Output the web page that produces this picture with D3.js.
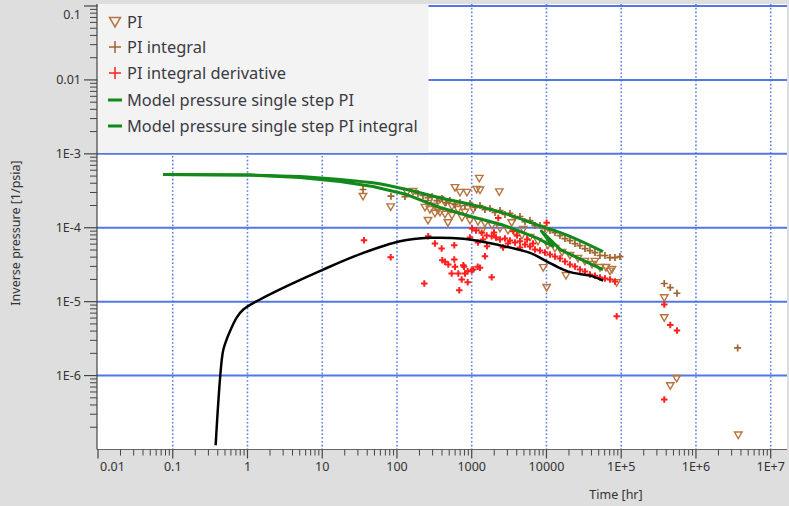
<!DOCTYPE html>
<html><head><meta charset="utf-8">
<script src="https://cdn.jsdelivr.net/npm/d3@7"></script>
<style>
body{margin:0;background:#dedede;}
svg{display:block;font-family:"Noto Sans","Open Sans",sans-serif;}
</style>
</head><body>
<svg id="c" width="789" height="506"></svg>
<script>
// ---------- tick labels ----------
const xTicks = [0.01, 0.1, 1, 10, 100, 1000, 10000, 1e5, 1e6, 1e7];
const xTickLabels = ["0.01", "0.1", "1", "10", "100", "1000", "10000", "1E+5", "1E+6", "1E+7"];
const yTicks = [1e-6, 1e-5, 1e-4, 1e-3, 0.01, 0.1];
const yTickLabels = ["1E-6", "1E-5", "1E-4", "1E-3", "0.01", "0.1"];
const seriesNames = ["PI", "PI integral", "PI integral derivative",
  "Model pressure single step PI", "Model pressure single step PI integral"];

// ---------- PI (triangles) ----------
const piTime = [35.1, 82.4, 136, 164, 260, 322, 322, 481, 597, 696,
  864, 1165, 1262, 1290, 2337, 1049, 3424, 4894, 1359, 9063,
  10060, 18240, 44550, 70710, 86960, 376700, 376700, 552100, 453200, 3680000,
  260, 276, 376, 439, 544, 741, 948, 1212, 1504, 1866, 2388,
  3055, 3790, 4702, 6016, 7695, 10470, 12990, 16120, 20620, 26390,
  32740, 40610, 51970, 62520, 75190,
  376, 439, 544, 655, 812, 354, 237];
const piValue = [2.64e-4, 1.91e-4, 3.0e-4, 3.09e-4, 1.25e-4, 1.56e-4, 1.95e-4, 1.165e-4, 3.47e-4, 3.0e-4,
  3.0e-4, 3.29e-4, 4.63e-4, 3.22e-4, 3.04e-4, 1.76e-4, 1.165e-4, 9.45e-5, 8.97e-5, 2.87e-5,
  1.55e-5, 2.25e-5, 3.49e-5, 2.58e-5, 1.80e-5, 1.125e-5, 6.04e-6, 9.11e-7, 7.26e-7, 1.56e-7,
  2.13e-4, 1.76e-4, 1.61e-4, 1.51e-4, 1.46e-4, 1.37e-4, 1.25e-4, 1.21e-4, 1.14e-4, 1.07e-4, 9.75e-5,
  9.17e-5, 8.61e-5, 7.84e-5, 7.37e-5, 6.51e-5, 5.74e-5, 5.23e-5, 4.62e-5, 4.21e-5, 3.83e-5,
  3.49e-5, 3.18e-5, 2.89e-5, 2.89e-5, 2.72e-5,
  2.41e-4, 2.19e-4, 1.94e-4, 1.76e-4, 1.61e-4, 1.71e-4, 1.88e-4];

// ---------- PI integral (brown plus) ----------
const piIntTime = [35.1, 83.1, 128, 191, 223, 260, 294, 343, 400, 452,
  512, 597, 696, 812, 948, 1105, 1290, 1504, 1755, 2046,
  2388, 2784, 3249, 3790, 4421, 5157, 6016, 7018, 8188, 9548,
  11140, 12990, 15160, 17680, 20620, 24060, 28070, 32740, 38180, 44550,
  51970, 60630, 70710, 82480, 96230, 376700, 453200, 557200, 3613000];
const piIntValue = [3.29e-4, 2.67e-4, 2.64e-4, 2.90e-4, 2.73e-4, 2.56e-4, 2.64e-4, 2.33e-4, 2.48e-4, 2.19e-4,
  2.33e-4, 2.06e-4, 2.19e-4, 2.00e-4, 2.13e-4, 1.88e-4, 2.00e-4, 1.76e-4, 1.82e-4, 1.61e-4,
  1.71e-4, 1.51e-4, 1.56e-4, 1.37e-4, 1.42e-4, 1.21e-4, 1.25e-4, 1.07e-4, 1.07e-4, 9.75e-5,
  9.17e-5, 8.61e-5, 7.84e-5, 7.14e-5, 6.71e-5, 6.11e-5, 5.74e-5, 5.23e-5, 4.91e-5, 4.62e-5,
  4.21e-5, 4.21e-5, 3.95e-5, 3.95e-5, 4.08e-5, 1.76e-5, 1.55e-5, 1.30e-5, 2.37e-6];

// ---------- PI integral derivative (red plus) ----------
const piDerTime = [36.2, 82.4, 232, 262, 322, 396, 584, 404, 439, 486,
  584, 597, 771, 788, 539, 661, 812, 883, 998, 1049,
  734, 883, 681, 1202, 1290, 1504, 1849, 2266, 10060, 86960,
  376700, 453200, 557200, 376700,
  948, 1008, 1140, 1212, 1359, 1585, 1600, 1849, 2110, 2388,
  2620, 2784, 3055, 3249, 3597, 3790, 4421, 4421, 5157, 6016,
  7018, 8188, 9548, 11140, 12990, 15160, 17680, 20620, 24060, 28070,
  32740, 38180, 44550, 51970, 60630, 70710, 82480,
  1414, 1985, 4030, 5486, 6596];
const piDerValue = [6.77e-5, 3.99e-5, 1.76e-5, 7.67e-5, 6.11e-5, 5.23e-5, 5.80e-5, 3.63e-5, 3.46e-5, 3.18e-5,
  3.71e-5, 2.96e-5, 3.11e-5, 2.96e-5, 2.40e-5, 2.40e-5, 2.40e-5, 2.58e-5, 2.64e-5, 2.72e-5,
  1.99e-5, 1.83e-5, 1.43e-5, 2.96e-5, 2.87e-5, 4.11e-5, 2.14e-5, 1.36e-4, 1.165e-4, 6.34e-6,
  9.14e-6, 4.85e-6, 4.06e-6, 4.73e-7,
  7.37e-5, 9.75e-5, 9.17e-5, 6.30e-5, 8.53e-5, 7.84e-5, 5.62e-5, 7.67e-5, 7.37e-5, 6.92e-5,
  5.40e-5, 7.14e-5, 6.11e-5, 6.71e-5, 8.97e-5, 6.30e-5, 6.57e-5, 5.40e-5, 5.92e-5, 5.57e-5,
  5.07e-5, 4.91e-5, 4.62e-5, 4.34e-5, 4.08e-5, 3.83e-5, 3.49e-5, 3.18e-5, 2.99e-5, 2.72e-5,
  2.55e-5, 2.33e-5, 2.25e-5, 2.12e-5, 2.05e-5, 1.99e-5, 1.87e-5,
  6.92e-5, 8.61e-5, 7.84e-5, 6.92e-5, 6.11e-5];

// ---------- model lines (in drawing order) ----------
const modelPITime = [0.0741, 1.08, 5.04, 17.3, 47.7, 135, 376, 977, 2620, 7390, 20620, 57000];
const modelPIValue = [5.25e-4, 5.16e-4, 4.93e-4, 4.49e-4, 4.05e-4, 3.29e-4, 2.54e-4, 2.06e-4, 1.59e-4, 1.105e-4, 7.67e-5, 4.76e-5];
const modelIntTime = [0.0741, 1.08, 5.04, 17.3, 47.7, 135, 376, 977, 2620, 7390, 12220, 8570, 15630, 57000];
const modelIntValue = [5.25e-4, 5.16e-4, 4.78e-4, 4.22e-4, 3.61e-4, 2.81e-4, 1.88e-4, 1.42e-4, 1.088e-4, 7.30e-5, 5.62e-5, 9.02e-5, 4.99e-5, 2.72e-5];
const modelDerTime = [0.375, 0.466, 0.508, 0.583, 0.717, 0.879, 1.47, 3.70, 10.3, 35.4, 110, 276, 771, 2160, 6020, 10060, 16800, 22800, 38200, 57500];
const modelDerValue = [1.14e-7, 2.03e-6, 2.80e-6, 3.98e-6, 6.09e-6, 7.82e-6, 1.07e-5, 1.70e-5, 2.72e-5, 4.57e-5, 6.57e-5, 7.30e-5, 7.08e-5, 5.92e-5, 4.57e-5, 3.52e-5, 2.72e-5, 2.45e-5, 2.25e-5, 1.93e-5];

// ---------- layout ----------
const svg = d3.select("#c");
const P = {left: 97, right: 787, top: 4, bottom: 449.5};
const x = d3.scaleLog().domain([0.01, 1e7]).range([98, 770.7]);
const y = d3.scaleLog().domain([1e-7, 0.1]).range([449.5, 6]);

const GRID = "#4169e1";
const C_TRI = "#b8743e", C_PLUS = "#a0642e", C_RED = "#ff1f1f", C_GREEN = "#12891a";

svg.append("rect").attr("x", P.left).attr("y", P.top)
  .attr("width", P.right - P.left).attr("height", P.bottom - P.top).attr("fill", "#fff");

svg.append("defs").append("clipPath").attr("id", "clip")
  .append("rect").attr("x", P.left).attr("y", P.top)
  .attr("width", P.right - P.left).attr("height", P.bottom - P.top);

const plot = svg.append("g").attr("clip-path", "url(#clip)");

// grid
plot.selectAll(".hg").data(yTicks).enter().append("line")
  .attr("x1", P.left).attr("x2", P.right)
  .attr("y1", d => y(d)).attr("y2", d => y(d))
  .attr("stroke", GRID).attr("stroke-width", 2).attr("opacity", 0.9);
plot.selectAll(".vg").data(xTicks.slice(1)).enter().append("line")
  .attr("x1", d => x(d)).attr("x2", d => x(d))
  .attr("y1", P.top).attr("y2", P.bottom)
  .attr("stroke", GRID).attr("stroke-width", 1.6).attr("stroke-dasharray", "1.6,2.2").attr("opacity", 0.85);

// markers
const tri = s => `M${-s/2},${-s*0.42}L${s/2},${-s*0.42}L0,${s*0.45}Z`;
const plus = s => `M${-s/2},0H${s/2}M0,${-s/2}V${s/2}`;

const piData = piTime.map((t, i) => [t, piValue[i]]);
const piIntData = piIntTime.map((t, i) => [t, piIntValue[i]]);
const piDerData = piDerTime.map((t, i) => [t, piDerValue[i]]);

plot.selectAll(".pi").data(piData).enter().append("path")
  .attr("d", tri(7.5)).attr("transform", d => `translate(${x(d[0])},${y(d[1])})`)
  .attr("fill", "none").attr("stroke", C_TRI).attr("stroke-width", 1.4);
plot.selectAll(".pint").data(piIntData).enter().append("path")
  .attr("d", plus(7)).attr("transform", d => `translate(${x(d[0])},${y(d[1])})`)
  .attr("fill", "none").attr("stroke", C_PLUS).attr("stroke-width", 1.7);
plot.selectAll(".pder").data(piDerData).enter().append("path")
  .attr("d", plus(6.5)).attr("transform", d => `translate(${x(d[0])},${y(d[1])})`)
  .attr("fill", "none").attr("stroke", C_RED).attr("stroke-width", 2);

// lines
const line = d3.line().x(d => x(d[0])).y(d => y(d[1]));
const smooth = d3.line().x(d => x(d[0])).y(d => y(d[1])).curve(d3.curveCatmullRom.alpha(0.5));
plot.append("path").datum(modelDerTime.map((t, i) => [t, modelDerValue[i]]))
  .attr("d", smooth).attr("fill", "none").attr("stroke", "#000").attr("stroke-width", 2.5)
  .attr("stroke-linejoin", "round");
plot.append("path").datum(modelPITime.map((t, i) => [t, modelPIValue[i]]))
  .attr("d", smooth).attr("fill", "none").attr("stroke", C_GREEN).attr("stroke-width", 3);
plot.append("path").datum(modelIntTime.map((t, i) => [t, modelIntValue[i]]))
  .attr("d", line).attr("fill", "none").attr("stroke", C_GREEN).attr("stroke-width", 3)
  .attr("stroke-linejoin", "round");

// legend
const lg = svg.append("g");
lg.append("rect").attr("x", P.left + 0.5).attr("y", P.top).attr("width", 331).attr("height", 149).attr("fill", "#f3f3f3");
const legY = [22, 47, 73, 100, 126];
const lx = 115, tx = 127;
lg.append("path").attr("d", tri(11)).attr("transform", `translate(${lx},${legY[0]})`)
  .attr("fill", "none").attr("stroke", C_TRI).attr("stroke-width", 1.5);
lg.append("path").attr("d", plus(12)).attr("transform", `translate(${lx},${legY[1]})`)
  .attr("fill", "none").attr("stroke", C_PLUS).attr("stroke-width", 1.5);
lg.append("path").attr("d", plus(12)).attr("transform", `translate(${lx},${legY[2]})`)
  .attr("fill", "none").attr("stroke", C_RED).attr("stroke-width", 1.5);
[3, 4].forEach(i => lg.append("line").attr("x1", lx - 7).attr("x2", lx + 7)
  .attr("y1", legY[i]).attr("y2", legY[i]).attr("stroke", C_GREEN).attr("stroke-width", 3));
lg.selectAll(".lt").data(seriesNames).enter().append("text")
  .attr("x", tx).attr("y", (d, i) => legY[i]).attr("dy", "0.35em")
  .attr("font-size", 16.4).attr("fill", "#3a3a44").text(d => d);

// axes lines
svg.append("line").attr("x1", P.left).attr("x2", P.left).attr("y1", P.top).attr("y2", P.bottom)
  .attr("stroke", "#444").attr("stroke-width", 1.2);
svg.append("line").attr("x1", P.left).attr("x2", P.right).attr("y1", P.bottom).attr("y2", P.bottom)
  .attr("stroke", "#666").attr("stroke-width", 1.2);

// minor ticks
const minorX = [], minorY = [];
for (let e = -2; e < 7; e++) for (let k = 2; k <= 9; k++) minorX.push(k * Math.pow(10, e));
for (let e = -7; e < -1; e++) for (let k = 2; k <= 9; k++) minorY.push(k * Math.pow(10, e));
svg.selectAll(".mx").data(minorX).enter().append("line")
  .attr("x1", d => x(d)).attr("x2", d => x(d)).attr("y1", P.bottom).attr("y2", P.bottom + 6)
  .attr("stroke", "#444").attr("stroke-width", 1);
svg.selectAll(".Mx").data(xTicks).enter().append("line")
  .attr("x1", d => x(d)).attr("x2", d => x(d)).attr("y1", P.bottom).attr("y2", P.bottom + 9)
  .attr("stroke", "#444").attr("stroke-width", 1.2);
svg.selectAll(".my").data(minorY).enter().append("line")
  .attr("y1", d => y(d)).attr("y2", d => y(d)).attr("x1", P.left - 7).attr("x2", P.left)
  .attr("stroke", "#444").attr("stroke-width", 1);
svg.selectAll(".My").data(yTicks).enter().append("line")
  .attr("y1", d => y(d)).attr("y2", d => y(d)).attr("x1", P.left - 13).attr("x2", P.left)
  .attr("stroke", "#444").attr("stroke-width", 1.2);

// tick labels
svg.selectAll(".xl").data(xTicks).enter().append("text")
  .attr("x", (d, i) => i === 0 ? x(d) + 2 : x(d))
  .attr("y", 467).attr("dy", "0.35em")
  .attr("text-anchor", (d, i) => i === 0 ? "start" : "middle")
  .attr("font-size", 12.5).attr("fill", "#333").text((d, i) => xTickLabels[i]);
svg.selectAll(".yl").data(yTicks).enter().append("text")
  .attr("x", 81).attr("y", d => d === 0.1 ? y(d) + 9 : y(d)).attr("dy", "0.35em")
  .attr("text-anchor", "end")
  .attr("font-size", 12.5).attr("fill", "#333").text((d, i) => yTickLabels[i]);

// axis titles
svg.append("text").attr("x", 616).attr("y", 495).attr("dy", "0.35em").attr("text-anchor", "middle")
  .attr("font-size", 12.5).attr("fill", "#333").text("Time [hr]");
svg.append("text").attr("transform", "translate(16,233) rotate(-90)").attr("dy", "0.35em")
  .attr("text-anchor", "middle").attr("font-size", 12.5).attr("fill", "#333").text("Inverse pressure [1/psia]");
</script>
</body></html>
